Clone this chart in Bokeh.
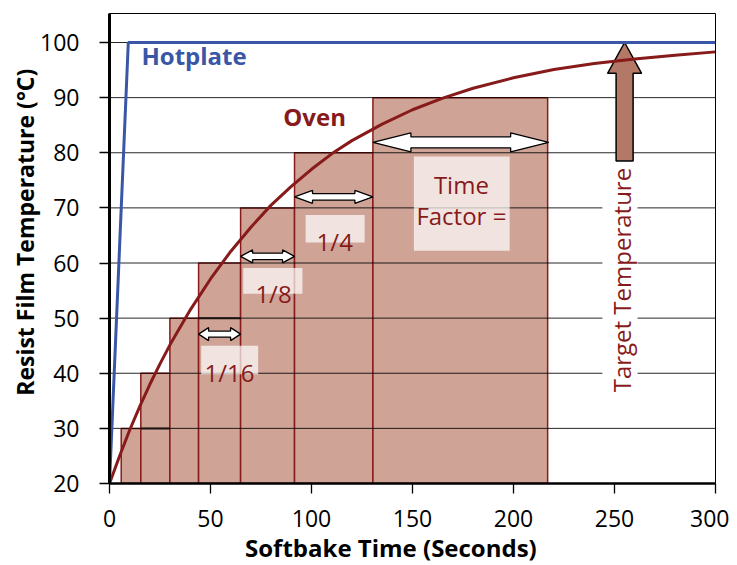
from bokeh.plotting import figure
from bokeh.models import Range1d, FixedTicker, Label
from bokeh.embed import file_html
from bokeh.resources import INLINE

# ---------------- data ----------------
x_ticks = [0, 50, 100, 150, 200, 250, 300]
y_ticks = [20, 30, 40, 50, 60, 70, 80, 90, 100]

hot_t = [0, 9.3, 300]
hot_temp = [20, 100, 100]

oven_t = [0, 5, 10, 15, 20, 25, 30, 40, 50, 60, 70, 80, 90, 100, 110, 120,
          135, 150, 165, 180, 200, 220, 240, 260, 280, 300]
oven_temp = [20.0, 25.0, 29.7, 34.0, 38.0, 41.7, 45.2, 51.5, 57.1, 62.1, 66.5,
             70.5, 73.9, 77.0, 79.8, 82.2, 85.2, 87.8, 89.9, 91.7, 93.6, 95.1,
             96.2, 97.0, 97.7, 98.3]

bar_left = [5.8, 15.5, 29.9, 44.1, 64.9, 91.6, 130.4]
bar_right = [15.5, 29.9, 44.1, 64.9, 91.6, 130.4, 216.9]
bar_top = [30, 40, 50, 60, 70, 80, 90]
bar_base = 20

arrow_x0 = [44.1, 64.9, 91.6, 130.4]
arrow_x1 = [64.9, 91.6, 130.4, 217.4]
arrow_y = [47.1, 61.2, 72.0, 81.9]

factor_text = ["1/16", "1/8", "1/4"]
factor_x = [59.4, 81.2, 111.5]
factor_y = [40.1, 54.5, 63.9]
factor_box_l = [45.4, 66.2, 97.1]
factor_box_r = [73.6, 95.5, 126.3]
factor_box_b = [39.8, 54.4, 63.7]
factor_box_t = [45.0, 59.1, 68.7]

tf_lines = ["Time", "Factor ="]
tf_x = 174.2
tf_y = [74.3, 68.6]
tf_box = (150.7, 198.1, 62.2, 79.3)  # left, right, bottom, top

target_t = 255
target_tip = 100
target_head_base = 94.4
target_tail = 78.5
target_box = (244.0, 261.4, 35.9, 78.5)

x_title = "Softbake Time (Seconds)"
y_title = "Resist Film Temperature (°C)"

# ---------------- styles ----------------
BLUE = "#3A56A6"
RED = "#871A1A"
BAR = "#CFA497"
ARROW_BROWN = "#B47866"
FONT = "Open Sans"

W, H = 729, 565
ML, MR, MT = 109, 14, 13
FW, FH = W - ML - MR, 470
MB = H - MT - FH
X0, X1 = 0, 300
Y0 = 20
Y1 = Y0 + FH / 5.5125
px_x = FW / (X1 - X0)
px_y = FH / (Y1 - Y0)

p = figure(width=W, height=H, output_backend="svg", toolbar_location=None,
           x_range=Range1d(X0, X1), y_range=Range1d(Y0, Y1),
           min_border_left=ML, min_border_right=MR, min_border_top=MT,
           min_border_bottom=MB)
p.xgrid.visible = False
p.ygrid.visible = False
p.outline_line_color = "black"
p.outline_line_width = 1
p.background_fill_color = "white"
p.border_fill_color = "white"

for ax, ticks in ((p.xaxis, x_ticks), (p.yaxis, y_ticks)):
    ax.ticker = FixedTicker(ticks=ticks)
    ax.minor_tick_line_color = None
    ax.major_tick_in = 0
    ax.major_tick_out = 10
    ax.major_tick_line_color = "black"
    ax.major_tick_line_width = 1.3
    ax.axis_line_color = "black"
    ax.major_label_text_font = FONT
    ax.major_label_text_font_size = "23px"
    ax.major_label_text_color = "black"
p.yaxis.axis_line_width = 3
p.xaxis.axis_line_width = 2.5
p.yaxis.major_label_standoff = 20
p.xaxis.major_label_standoff = 16

# bars
p.quad(left=bar_left, right=bar_right, top=bar_top, bottom=bar_base,
       fill_color=BAR, line_color=RED, line_width=1.5)

# gridlines (drawn over bars)
p.segment(x0=X0, x1=X1, y0=y_ticks[1:], y1=y_ticks[1:], line_color="black",
          line_width=1, line_alpha=0.85)
# darker marks where consecutive steps meet
p.segment(x0=[bar_left[1], bar_left[3]], x1=[bar_right[1], bar_right[3]],
          y0=[bar_top[0], bar_top[2]], y1=[bar_top[0], bar_top[2]],
          line_color="#1a1010", line_width=2)

# label boxes
p.quad(left=factor_box_l, right=factor_box_r, bottom=factor_box_b, top=factor_box_t,
       fill_color="white", fill_alpha=0.7, line_color=None)
p.quad(left=[tf_box[0]], right=[tf_box[1]], bottom=[tf_box[2]], top=[tf_box[3]],
       fill_color="white", fill_alpha=0.7, line_color=None)
p.quad(left=[target_box[0]], right=[target_box[1]], bottom=[target_box[2]],
       top=[target_box[3]], fill_color="white", line_color=None)

# double arrows
head_len = [10, 12, 18, 38]
head_h = [13, 13, 13, 19]
shaft_h = [6, 6.5, 6.5, 11]
xs, ys = [], []
for x0, x1, y, hl, hh, sh in zip(arrow_x0, arrow_x1, arrow_y, head_len, head_h, shaft_h):
    dx = hl / px_x
    hy = hh / 2 / px_y
    sy = sh / 2 / px_y
    xs.append([x0, x0 + dx, x0 + dx, x1 - dx, x1 - dx, x1, x1 - dx, x1 - dx, x0 + dx, x0 + dx])
    ys.append([y, y + hy, y + sy, y + sy, y + hy, y, y - hy, y - sy, y - sy, y - hy])
p.patches(xs, ys, fill_color="white", line_color="black", line_width=1.3)

# target arrow (vertical)
hw = 34 / 2 / px_x
sw = 17 / 2 / px_x
tx = [target_t, target_t + hw, target_t + sw, target_t + sw, target_t - sw, target_t - sw, target_t - hw]
ty = [target_tip, target_head_base, target_head_base, target_tail, target_tail, target_head_base, target_head_base]
p.patch(tx, ty, fill_color=ARROW_BROWN, line_color="black", line_width=1.5)

# curves
p.line(oven_t, oven_temp, line_color=RED, line_width=3)
p.line(hot_t, hot_temp, line_color=BLUE, line_width=3)

# texts
def lab(place="center", **kw):
    base = dict(text_font=FONT, text_font_size="24px")
    base.update(kw)
    p.add_layout(Label(**base), place)

lab(x=15.8, y=94.7, text="Hotplate", text_color=BLUE, text_font_style="bold")
lab(x=86.0, y=83.6, text="Oven", text_color=RED, text_font_style="bold")
for t, x, y in zip(factor_text, factor_x, factor_y):
    lab(x=x, y=y, text=t, text_color=RED, text_align="center", text_baseline="alphabetic")
for t, y in zip(tf_lines, tf_y):
    lab(x=tf_x, y=y, text=t, text_color=RED, text_align="center", text_baseline="alphabetic")
lab(x=253.6, y=56.9, text="Target Temperature", text_color=RED, angle=90, angle_units="deg",
    text_align="center", text_baseline="middle")

# axis titles (placed in side panels so that they are not clipped to the frame)
lab(place="below", x=139.3, y=Y0 - 64.0 / px_y, text=x_title, text_color="black",
    text_font_style="bold", text_align="center", text_baseline="alphabetic")
lab(place="left", x=-84.5 / px_x, y=Y0 + 251.2 / px_y, text=y_title, text_color="black",
    text_font_style="bold", text_font_size="23px", text_align="center",
    text_baseline="middle", angle=90, angle_units="deg")

open("out.html", "w").write(file_html(p, INLINE))
